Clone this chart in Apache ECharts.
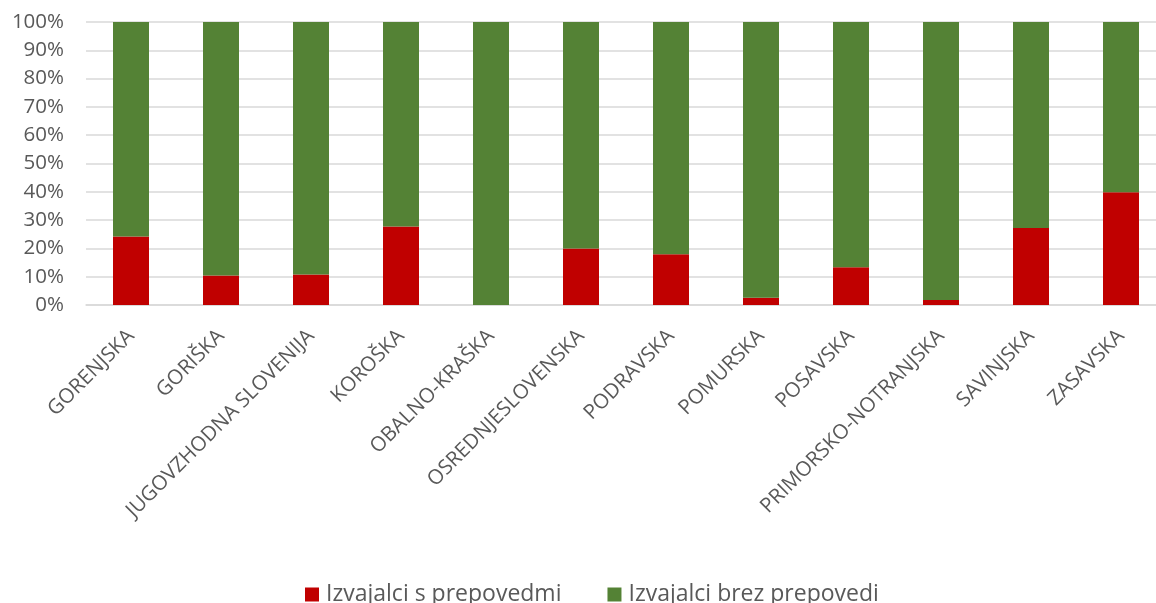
<!DOCTYPE html>
<html><head><meta charset="utf-8">
<script src="https://cdn.jsdelivr.net/npm/echarts@6/dist/echarts.min.js"></script>
<style>html,body{margin:0;padding:0;background:#fff;overflow:hidden}#c{width:1156px;height:603px}</style>
</head><body><div id="c"></div>
<script>
const categories = ['GORENJSKA','GORIŠKA','JUGOVZHODNA SLOVENIJA','KOROŠKA','OBALNO-KRAŠKA','OSREDNJESLOVENSKA','PODRAVSKA','POMURSKA','POSAVSKA','PRIMORSKO-NOTRANJSKA','SAVINJSKA','ZASAVSKA'];
const withBans = [24.2, 10.4, 10.8, 27.7, 0, 20.0, 17.9, 2.6, 13.3, 1.8, 27.2, 39.8];
const withoutBans = [75.8, 89.6, 89.2, 72.3, 100, 80.0, 82.1, 97.4, 86.7, 98.2, 72.8, 60.2];
const seriesNames = ['Izvajalci s prepovedmi', 'Izvajalci brez prepovedi'];
const font = '"Open Sans", sans-serif';
const chart = echarts.init(document.getElementById('c'), null, {renderer:'canvas'});
chart.setOption({
  animation:false,
  grid:{left:86, width:1080, top:22, height:283, containLabel:false, outerBoundsMode:'none'},
  legend:{top:578, left:300, itemWidth:14, itemHeight:14, itemGap:46,
    icon:'rect', textStyle:{fontFamily:font, fontSize:23, color:'#595959', padding:[0,0,0,2]}, data:seriesNames},
  xAxis:{type:'category', data:categories,
    axisLine:{show:true, lineStyle:{color:'#D9D9D9', width:1.5}},
    axisTick:{show:false},
    axisLabel:{rotate:45, interval:0, margin:28, fontFamily:font, fontSize:20.5, color:'#595959'}},
  yAxis:{type:'value', min:0, max:100, interval:10,
    axisLabel:{formatter:'{value}%', fontFamily:font, fontSize:20.5, color:'#595959', margin:22},
    splitLine:{lineStyle:{color:'#D9D9D9', width:1.5}},
    axisLine:{show:false}, axisTick:{show:false}},
  series:[
    {name:seriesNames[0], type:'bar', stack:'s', data:withBans, barWidth:'40%',
      itemStyle:{color:'#C00000'}},
    {name:seriesNames[1], type:'bar', stack:'s', data:withoutBans, barWidth:'40%',
      itemStyle:{color:'#548235'}}
  ]
});
</script></body></html>
